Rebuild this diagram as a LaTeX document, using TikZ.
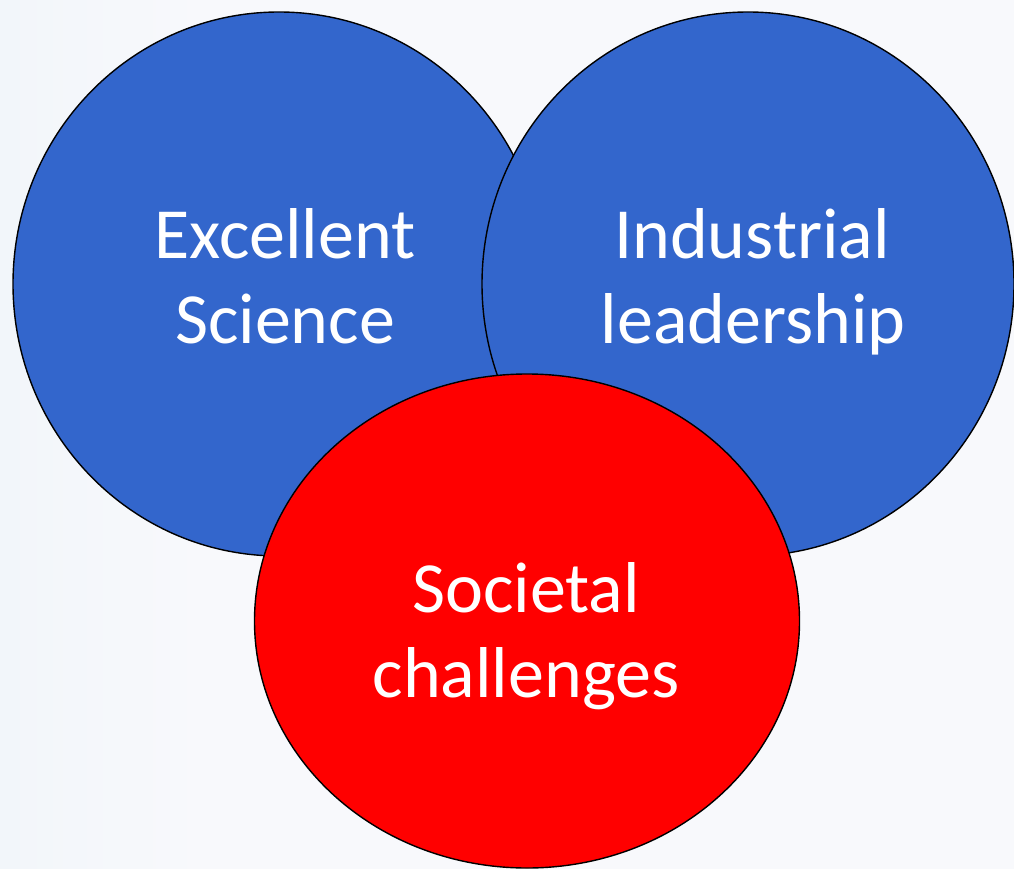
\documentclass[tikz,border=0pt]{standalone}
\usepackage{fontspec}
\setmainfont{Carlito}
\usetikzlibrary{shapes.geometric}
\definecolor{bluefill}{HTML}{3366CC}
\definecolor{redfill}{HTML}{FF0000}
\definecolor{bgblue}{HTML}{D6E9F2}
\definecolor{bgmid}{HTML}{EAF2F7}
\definecolor{bgwhite}{HTML}{F8F9FC}
\pgfdeclarehorizontalshading{bgshade}{100bp}{color(0bp)=(bgblue); color(12bp)=(bgmid); color(35bp)=(bgwhite); color(100bp)=(bgwhite)}
\tikzset{
  blob/.style={ellipse, draw=black, line width=1.4pt, inner sep=0pt},
  bluecirc/.style={blob, fill=bluefill, minimum width=532pt, minimum height=544pt},
  redcirc/.style={blob, fill=redfill, minimum width=545pt, minimum height=494pt},
  lbl/.style={text=white, inner sep=0pt, anchor=base, font=\fontsize{72}{86}\selectfont}
}
\begin{document}
\begin{tikzpicture}[x=1pt,y=-1pt]
\useasboundingbox (0,0) rectangle (1014,869);
\shade[shading=bgshade] (0,0) rectangle (1014,869);
\node[bluecirc] (sci) at (279,284) {};
\node[bluecirc] (ind) at (748,284) {};
\node[redcirc] (soc) at (527,621) {};
\node[lbl] (sci1) at (285,258) {Excellent};
\node[lbl] (sci2) at (285,343) {Science};
\node[lbl] (ind1) at (752,258) {Industrial};
\node[lbl] (ind2) at (753,343) {leadership};
\node[lbl] (soc1) at (526,612) {Societal};
\node[lbl] (soc2) at (526,697) {challenges};
\end{tikzpicture}
\end{document}
